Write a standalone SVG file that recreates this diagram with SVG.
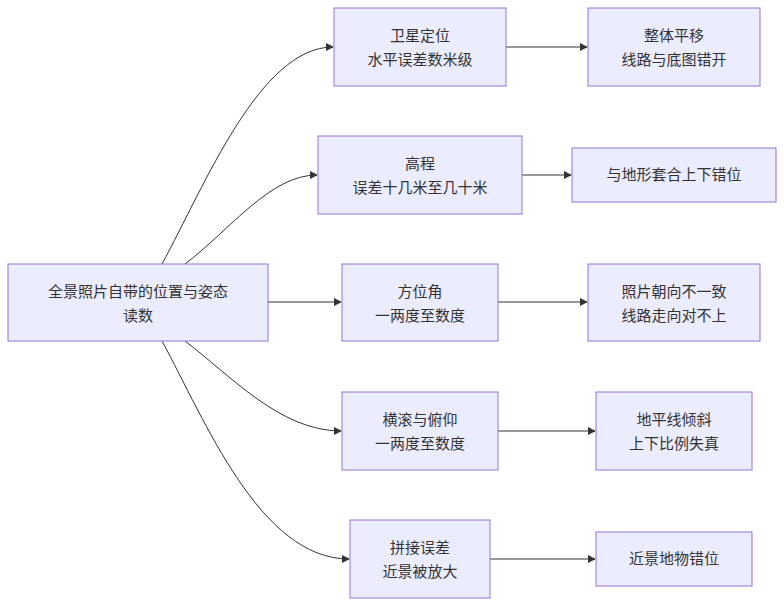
<svg xmlns="http://www.w3.org/2000/svg" width="784" height="606" viewBox="0 0 784 606">
<style>
.n rect{fill:#ECECFF;stroke:#9370DB;stroke-width:1}
.n text{font-family:"Noto Sans CJK SC","Liberation Sans",sans-serif;font-size:15px;fill:#333;text-anchor:middle}
.e path{fill:none;stroke:#333;stroke-width:1;marker-end:url(#a)}
</style>
<defs><marker id="a" viewBox="0 0 10 10" refX="9" refY="5" markerWidth="8" markerHeight="8" orient="auto"><path d="M0,0L10,5L0,10z" fill="#333"/></marker></defs>
<rect width="784" height="606" fill="#fff"/>
<g class="e">
<path d="M162,264 C205,185 260,47 333,47"/>
<path d="M185,264 C230,230 270,175 317,175"/>
<path d="M268,302 L341,302"/>
<path d="M185,341 C230,375 280,431 341,431"/>
<path d="M162,341 C205,420 260,559 349,559"/>
<path d="M506,47 L587,47"/>
<path d="M522,175 L571,175"/>
<path d="M498,302 L587,302"/>
<path d="M498,431 L595,431"/>
<path d="M490,559 L595,559"/>
</g>
<g id="A" class="n"><rect x="8" y="264" width="260" height="77"/><text x="138" y="297">全景照片自带的位置与姿态</text><text x="138" y="321">读数</text></g>
<g id="B1" class="n"><rect x="334" y="8" width="172" height="78"/><text x="420" y="41">卫星定位</text><text x="420" y="65">水平误差数米级</text></g>
<g id="C1" class="n"><rect x="588" y="8" width="172" height="78"/><text x="674" y="41">整体平移</text><text x="674" y="65">线路与底图错开</text></g>
<g id="B2" class="n"><rect x="318" y="136" width="204" height="78"/><text x="420" y="169">高程</text><text x="420" y="193">误差十几米至几十米</text></g>
<g id="C2" class="n"><rect x="572" y="148" width="204" height="54"/><text x="674" y="180">与地形套合上下错位</text></g>
<g id="B3" class="n"><rect x="342" y="264" width="156" height="77"/><text x="420" y="297">方位角</text><text x="420" y="321">一两度至数度</text></g>
<g id="C3" class="n"><rect x="588" y="264" width="172" height="77"/><text x="674" y="297">照片朝向不一致</text><text x="674" y="321">线路走向对不上</text></g>
<g id="B4" class="n"><rect x="342" y="392" width="156" height="78"/><text x="420" y="425">横滚与俯仰</text><text x="420" y="449">一两度至数度</text></g>
<g id="C4" class="n"><rect x="596" y="392" width="156" height="78"/><text x="674" y="425">地平线倾斜</text><text x="674" y="449">上下比例失真</text></g>
<g id="B5" class="n"><rect x="350" y="520" width="140" height="78"/><text x="420" y="553">拼接误差</text><text x="420" y="577">近景被放大</text></g>
<g id="C5" class="n"><rect x="596" y="532" width="156" height="54"/><text x="674" y="564">近景地物错位</text></g>
</svg>
